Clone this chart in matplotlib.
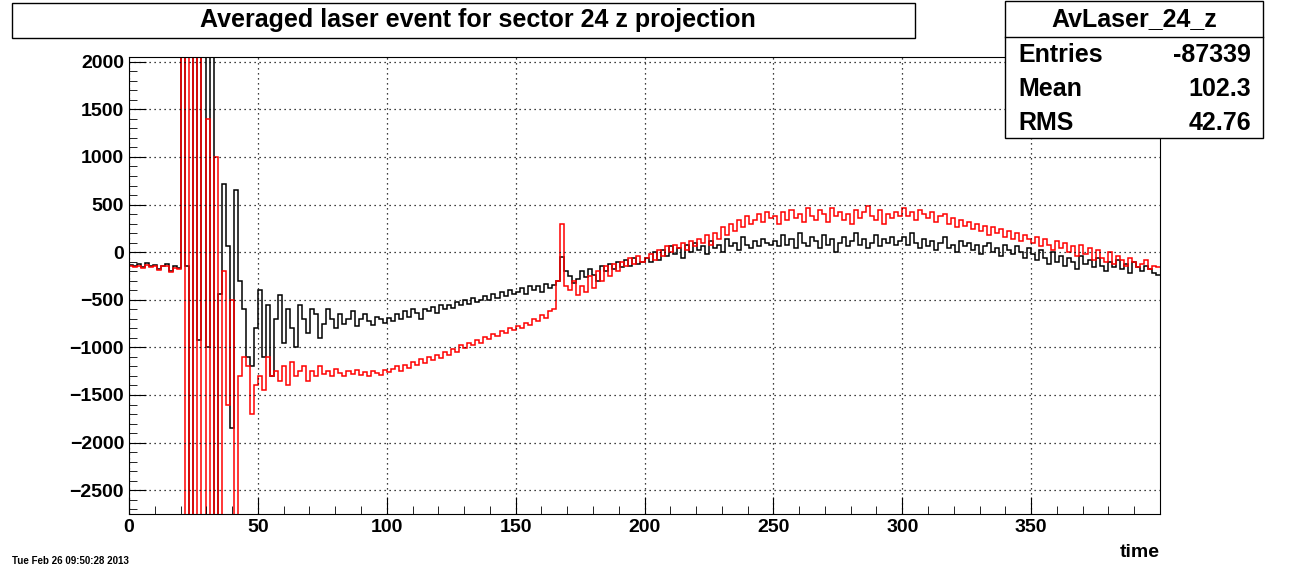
import numpy as np
import matplotlib
matplotlib.use("Agg")
import matplotlib.pyplot as plt
from matplotlib.patches import Rectangle
plt.rcParams['font.family'] = ['Liberation Sans', 'DejaVu Sans']

black = ([-130,-140,-120,-160,-110,-150,-130,-180,-140,-120,-200,-150,-170]
 + [2500,-150,-3000,2500,-920,2500,-1000,2500,-3000,-440,720,70,-1850,650,-300,-600,-1100,-1200,-800,-400]
 + [-1100,-550,-1300,-700,-450,-950,-600,-800,-1000,-550,-700,-850,-600,-650,-900,-750,-600,-700,-800,-650,-750,-700,-620,-780,-700,-650,-720,-760,-680,-700,-740]
 + [-690,-720,-650,-700,-620,-680,-600,-640,-700,-600,-620,-580,-640,-560,-600,-550,-590,-520,-560,-500,-540,-480,-520,-500,-460,-500,-440,-480,-420,-460,-400,-440]
 + [-420,-380,-440,-360,-400,-350,-420,-330,-380,-340]
 + [-300,-50,-200]
 + [-250,-320,-280,-200,-260,-180,-240,-300,-150,-200,-120,-180,-100,-160,-80,-140,-60,-120,-100]
 + [-60,-100,0,-80,20,-40,60,-20,40,-60,80,0,100,20,60,-20,120,40,80,0,140,60,100,20,160,80,40,120,60,140,100,80]
 + [120,60,180,80,140,40,200,100,60,160,120,40,180,80,140,0,100,160,60,120,200,80,140,40,100,180,60,140,100,160,80,120]
 + [160,80,200,100,40,140,60,120,20,100,160,40,80,0,120,60,100,20,80,-20,60,100,0,40,-40,80,20,-20,60,0,-60,40]
 + [-20,-80,20,-60,-120,0,-100,-40,-140,-60,-100,-180,-40,-120,-80,-160,-60,-140,-200,-100,-160,-80,-180,-120,-220,-100,-160,-200,-140,-180,-220,-240])

red = ([-150,-160,-140,-170,-130,-160,-150,-190,-150,-140,-210,-170,-180]
 + [2500,-3000,2500,-3000,2500,-3000,1400,-3000,1000,-3000,-200,-1600,-500,-3000,-1300,-1100,-1200,-1700,-1400,-1300]
 + [-1450,-1100,-1300,-1250,-1350,-1200,-1400,-1150,-1300,-1250,-1200,-1350,-1250,-1300,-1200,-1280,-1250,-1300,-1230,-1270,-1300,-1250,-1280,-1240,-1290,-1260,-1300,-1250,-1270,-1290,-1240]
 + [-1260,-1230,-1200,-1250,-1180,-1220,-1150,-1190,-1120,-1160,-1100,-1130,-1080,-1110,-1050,-1080,-1020,-1050,-980,-1010,-950,-980,-920,-950,-890,-910,-860,-880,-830,-850,-800,-820]
 + [-780,-800,-740,-760,-700,-720,-660,-690,-620,-600]
 + [-300,300,-350]
 + [-400,-300,-450,-350,-420,-250,-380,-200,-300,-150,-250,-120,-200,-100,-150,-60,-120,-40,-100]
 + [-60,-20,-80,20,-40,60,0,80,40,100,20,120,60,140,100,180,80,200,140,260,180,300,220,340,260,380,300,340,400,320,420,360]
 + [380,300,420,340,440,360,400,320,460,380,340,440,400,320,460,380,420,340,400,300,440,360,420,480,380,340,440,300,400,360,420,380]
 + [460,380,420,340,440,400,360,420,320,380,400,300,360,260,340,280,320,240,300,220,280,180,260,200,240,160,220,140,200,120,180,140]
 + [100,160,60,140,80,20,120,40,100,0,60,-40,80,-20,40,-80,20,-60,-100,0,-120,-40,-80,-140,-60,-100,-160,-120,-80,-180,-140,-160])

edges = np.linspace(0, 400, len(black) + 1)

fig = plt.figure(figsize=(12.89, 5.71), dpi=100)
ax = fig.add_axes([129/1289, 1-514/571, (1160-129)/1289, (514-57)/571])
ax.stairs(black, edges, color='black', lw=1.1, baseline=None)
ax.stairs(red, edges, color='red', lw=1.1, baseline=None)
ax.set_xlim(0, 400)
ax.set_ylim(-2750, 2050)
ax.set_xticks(np.arange(0, 400, 50))
ax.set_yticks(np.arange(-2500, 2001, 500))
ax.set_xticks(np.arange(0, 400, 10), minor=True)
ax.set_yticks(np.arange(-2700, 2050, 100), minor=True)
ax.tick_params(which='both', direction='in', top=False, right=False, labelsize=14)
ax.tick_params(which='major', length=12)
ax.tick_params(which='minor', length=6)
for l in ax.get_xticklabels() + ax.get_yticklabels():
    l.set_fontweight('bold')
ax.grid(True, which='major', color='black', ls=(0, (1, 3)), lw=0.9)
ax.text(1.0, -0.065, 'time', transform=ax.transAxes, ha='right', va='top', fontsize=14, fontweight='bold')

fig.patches.append(Rectangle((12/1289, 1-38/571), (915-12)/1289, 35/571, transform=fig.transFigure,
                             fill=True, fc='white', ec='black', lw=1))
fig.text(478/1289, 1-20/571, 'Averaged laser event for sector 24 z projection', ha='center', va='center',
         fontsize=18, fontweight='bold')

fig.patches.append(Rectangle((1005/1289, 1-138/571), (1263-1005)/1289, 137/571, transform=fig.transFigure,
                             fill=True, fc='white', ec='black', lw=1, zorder=5))
fig.lines.append(plt.Line2D([1005/1289, 1263/1289], [1-37/571]*2, transform=fig.transFigure, color='black', lw=1, zorder=6))
fig.text(1134/1289, 1-19/571, 'AvLaser_24_z', ha='center', va='center', fontsize=18, fontweight='bold', zorder=7)
for y, k, v in [(55, 'Entries', '-87339'), (89, 'Mean', '102.3'), (123, 'RMS', '42.76')]:
    fig.text(1018/1289, 1-y/571, k, ha='left', va='center', fontsize=18, fontweight='bold', zorder=7)
    fig.text(1251/1289, 1-y/571, v, ha='right', va='center', fontsize=18, fontweight='bold', zorder=7)

fig.text(12/1289, 1-561/571, 'Tue Feb 26 09:50:28 2013', ha='left', va='center', fontsize=7, fontweight='bold')
fig.savefig('out.png', dpi=100)
